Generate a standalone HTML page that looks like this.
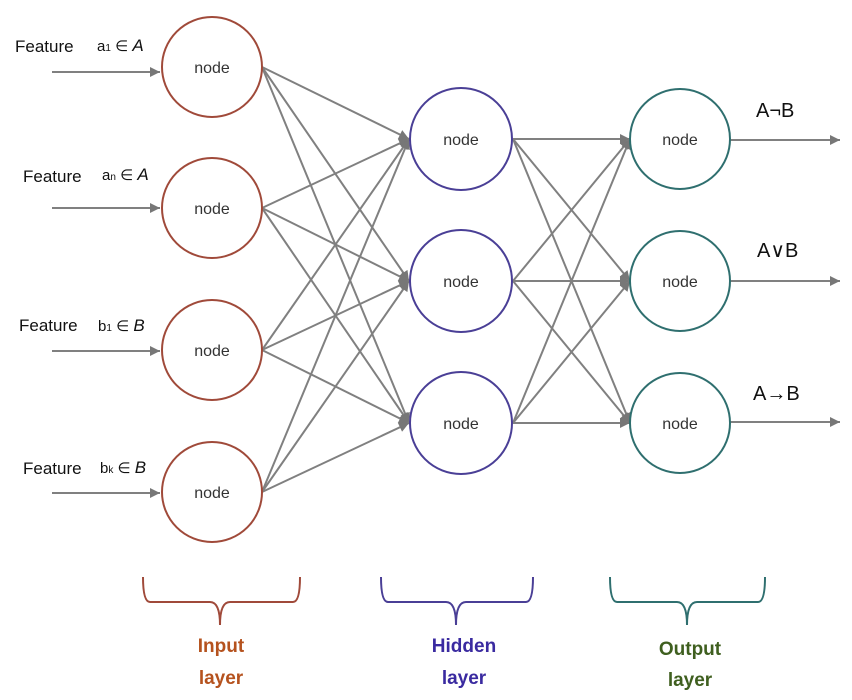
<!DOCTYPE html>
<html><head><meta charset="utf-8"><style>
html,body{margin:0;padding:0;background:#fff;}
svg{display:block;}
text{font-family:"Liberation Sans",sans-serif;}
</style></head><body>
<svg width="852" height="700" viewBox="0 0 852 700" xmlns="http://www.w3.org/2000/svg">
<defs>
<marker id="a" viewBox="0 0 10 10" refX="10" refY="5" markerWidth="6" markerHeight="5" orient="auto" markerUnits="strokeWidth"><path d="M0,0 L10,5 L0,10 z" fill="#777"/></marker>
</defs>
<g stroke="#808080" stroke-width="2" fill="none" marker-end="url(#a)">
<!-- input arrows -->
<line x1="52" y1="72" x2="160" y2="72"/>
<line x1="52" y1="208" x2="160" y2="208"/>
<line x1="52" y1="351" x2="160" y2="351"/>
<line x1="52" y1="493" x2="160" y2="493"/>
<!-- input to hidden -->
<line x1="262" y1="67" x2="409" y2="139"/>
<line x1="262" y1="67" x2="409" y2="281"/>
<line x1="262" y1="67" x2="409" y2="423"/>
<line x1="262" y1="208" x2="409" y2="139"/>
<line x1="262" y1="208" x2="409" y2="281"/>
<line x1="262" y1="208" x2="409" y2="423"/>
<line x1="262" y1="350" x2="409" y2="139"/>
<line x1="262" y1="350" x2="409" y2="281"/>
<line x1="262" y1="350" x2="409" y2="423"/>
<line x1="262" y1="492" x2="409" y2="139"/>
<line x1="262" y1="492" x2="409" y2="281"/>
<line x1="262" y1="492" x2="409" y2="423"/>
<!-- hidden to output -->
<line x1="513" y1="139" x2="630" y2="139"/>
<line x1="513" y1="139" x2="630" y2="281"/>
<line x1="513" y1="139" x2="630" y2="423"/>
<line x1="513" y1="281" x2="630" y2="139"/>
<line x1="513" y1="281" x2="630" y2="281"/>
<line x1="513" y1="281" x2="630" y2="423"/>
<line x1="513" y1="423" x2="630" y2="139"/>
<line x1="513" y1="423" x2="630" y2="281"/>
<line x1="513" y1="423" x2="630" y2="423"/>
<!-- outputs -->
<line x1="730" y1="140" x2="840" y2="140"/>
<line x1="730" y1="281" x2="840" y2="281"/>
<line x1="730" y1="422" x2="840" y2="422"/>
</g>
<g fill="#fff" stroke-width="2">
<circle cx="212" cy="67" r="50" stroke="#a04a3a"/>
<circle cx="212" cy="208" r="50" stroke="#a04a3a"/>
<circle cx="212" cy="350" r="50" stroke="#a04a3a"/>
<circle cx="212" cy="492" r="50" stroke="#a04a3a"/>
<circle cx="461" cy="139" r="51" stroke="#4a3f96"/>
<circle cx="461" cy="281" r="51" stroke="#4a3f96"/>
<circle cx="461" cy="423" r="51" stroke="#4a3f96"/>
<circle cx="680" cy="139" r="50" stroke="#2f6f6f"/>
<circle cx="680" cy="281" r="50" stroke="#2f6f6f"/>
<circle cx="680" cy="423" r="50" stroke="#2f6f6f"/>
</g>
<g font-size="16" fill="#333" text-anchor="middle">
<text x="212" y="73">node</text><text x="212" y="214">node</text><text x="212" y="356">node</text><text x="212" y="498">node</text>
<text x="461" y="145">node</text><text x="461" y="287">node</text><text x="461" y="429">node</text>
<text x="680" y="145">node</text><text x="680" y="287">node</text><text x="680" y="429">node</text>
</g>
<g font-size="17" fill="#111">
<text x="15" y="52">Feature</text><text x="97" y="51" font-size="15">a<tspan font-size="10">1</tspan> ∈ <tspan font-style="italic" font-size="17">A</tspan></text>
<text x="23" y="182">Feature</text><text x="102" y="180" font-size="15">a<tspan font-size="10">n</tspan> ∈ <tspan font-style="italic" font-size="17">A</tspan></text>
<text x="19" y="331">Feature</text><text x="98" y="331" font-size="15">b<tspan font-size="10">1</tspan> ∈ <tspan font-style="italic" font-size="17">B</tspan></text>
<text x="23" y="474">Feature</text><text x="100" y="473" font-size="15">b<tspan font-size="10">k</tspan> ∈ <tspan font-style="italic" font-size="17">B</tspan></text>
</g>
<g font-size="20" fill="#111">
<text x="756" y="117">A¬B</text>
<text x="757" y="257">A∨B</text>
<text x="753" y="400">A→B</text>
</g>
<g fill="none" stroke-width="2">
<path d="M143,577 Q143,602 150,602 L210,602 Q220,602 220,625 Q220,602 230,602 L293,602 Q300,602 300,577" stroke="#a04a3a"/>
<path d="M381,577 Q381,602 388,602 L446,602 Q456,602 456,625 Q456,602 466,602 L526,602 Q533,602 533,577" stroke="#4a3f96"/>
<path d="M610,577 Q610,602 617,602 L677,602 Q687,602 687,625 Q687,602 697,602 L758,602 Q765,602 765,577" stroke="#2f6f6f"/>
</g>
<g font-size="19" font-weight="bold" text-anchor="middle">
<text x="221" y="652" fill="#b5521e">Input</text><text x="221" y="684" fill="#b5521e">layer</text>
<text x="464" y="652" fill="#3a2aa0">Hidden</text><text x="464" y="684" fill="#3a2aa0">layer</text>
<text x="690" y="655" fill="#3f5f1f">Output</text><text x="690" y="686" fill="#3f5f1f">layer</text>
</g>
</svg>
</body></html>
